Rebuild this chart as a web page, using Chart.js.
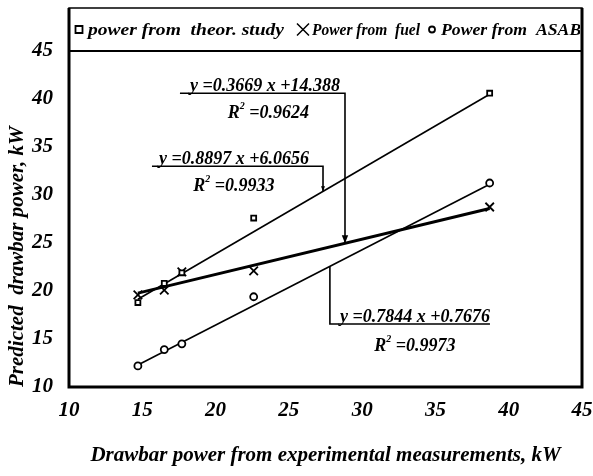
<!DOCTYPE html>
<html>
<head>
<meta charset="utf-8">
<title>Drawbar power</title>
<script src="https://cdn.jsdelivr.net/npm/chart.js@4.4.0/dist/chart.umd.min.js"></script>
<style>
  html, body { margin: 0; padding: 0; background: #fff; }
</style>
</head>
<body>
<canvas id="myChart" width="593" height="476"></canvas>
<script>
// measured drawbar power (x) and the three predictions (y), kW
var measured   = [14.7, 16.5, 17.7, 22.6, 38.7];
var theorPower = [18.8, 20.8, 21.9, 27.6, 40.6];
var fuelPower  = [19.6, 20.1, 22.0, 22.1, 28.75];
var asabePower = [12.2, 13.9, 14.5, 19.4, 31.25];
var seriesNames = ['power from  theor. study', 'Power from  fuel', 'Power from  ASABE'];

// linear fits as printed on the chart
var slopes     = [0.8897, 0.3669, 0.7844];
var intercepts = [6.0656, 14.388, 0.7676];
var rSquared   = [0.9933, 0.9624, 0.9973];

var xTicks = [10, 15, 20, 25, 30, 35, 40, 45];
var yTicks = [10, 15, 20, 25, 30, 35, 40, 45];

var serif = "'Liberation Serif', 'DejaVu Serif', serif";

function pts(ys) {
  return measured.map(function (x, i) { return {x: x, y: ys[i]}; });
}
function fitLine(i) {
  var lo = Math.min.apply(null, measured), hi = Math.max.apply(null, measured);
  return [{x: lo, y: slopes[i] * lo + intercepts[i]}, {x: hi, y: slopes[i] * hi + intercepts[i]}];
}

// where the equation boxes and their leader lines sit (data units)
var notes = [
  {fit: 1, from: 17.57, to: 28.83, lineY: 40.6, textX: 23.37, r2X: 23.6, r2Y: 38.0, arrow: 8},
  {fit: 0, from: 15.66, to: 27.33, lineY: 33.0, textX: 21.25, r2X: 21.25, r2Y: 30.4, arrow: 5},
  {fit: 2, from: 38.72, to: 27.8, lineY: 16.56, textX: 33.6, r2X: 33.6, r2Y: 13.75, arrow: 0}
];
// legend item marker x and text width (px)
var legendX = [79, 303, 432];
var legendW = [196, 108, 152];

function drawMarker(ctx, style, x, y) {
  ctx.save();
  ctx.strokeStyle = '#000';
  ctx.fillStyle = '#fff';
  ctx.lineWidth = 1.8;
  ctx.beginPath();
  if (style === 'rect') {
    ctx.rect(x - 3.5, y - 3.5, 7, 7);
    ctx.fill(); ctx.stroke();
  } else if (style === 'crossRot') {
    ctx.lineWidth = 1.5;
    ctx.moveTo(x - 6, y - 6); ctx.lineTo(x + 6, y + 6);
    ctx.moveTo(x + 6, y - 6); ctx.lineTo(x - 6, y + 6);
    ctx.stroke();
  } else {
    ctx.arc(x, y, 3, 0, Math.PI * 2);
    ctx.fill(); ctx.stroke();
  }
  ctx.restore();
}

var framePlugin = {
  id: 'frameAndNotes',
  afterDraw: function (chart) {
    var ctx = chart.ctx, a = chart.chartArea;
    var xs = chart.scales.x, ys = chart.scales.y;
    var frameTop = 8;
    ctx.save();
    ctx.strokeStyle = '#000';
    // outer frame (plot + legend band)
    ctx.lineWidth = 1.5;
    ctx.strokeRect(a.left, frameTop, a.right - a.left, a.bottom - frameTop);
    ctx.lineWidth = 3;
    ctx.beginPath();
    ctx.moveTo(a.left, frameTop); ctx.lineTo(a.left, a.bottom);
    ctx.lineTo(a.right, a.bottom); ctx.lineTo(a.right, frameTop);
    ctx.stroke();
    ctx.lineWidth = 2;
    ctx.beginPath();
    ctx.moveTo(a.left, a.top); ctx.lineTo(a.right, a.top);
    ctx.stroke();

    // legend band
    ctx.save();
    ctx.beginPath();
    ctx.rect(a.left, frameTop, a.right - a.left - 2, a.top - frameTop);
    ctx.clip();
    var ly = (frameTop + a.top) / 2;
    ctx.font = 'italic bold 17px ' + serif;
    ctx.fillStyle = '#000';
    ctx.textBaseline = 'middle';
    ctx.textAlign = 'left';
    for (var i = 0; i < 3; i++) {
      var ds = chart.data.datasets[i];
      drawMarker(ctx, ds.pointStyle, legendX[i], ly);
      var w = ctx.measureText(ds.label).width;
      ctx.save();
      ctx.translate(legendX[i] + 9, ly + 1);
      ctx.scale(legendW[i] / w, 1);
      ctx.fillText(ds.label, 0, 0);
      ctx.restore();
    }
    ctx.restore();

    // regression equations with leader lines
    ctx.fillStyle = '#000';
    ctx.lineWidth = 1.6;
    notes.forEach(function (n) {
      var k = n.fit;
      var hy = ys.getPixelForValue(n.lineY);
      var x0 = xs.getPixelForValue(n.from), x1 = xs.getPixelForValue(n.to);
      var fy = ys.getPixelForValue(slopes[k] * n.to + intercepts[k]);
      ctx.beginPath();
      ctx.moveTo(x0, hy); ctx.lineTo(x1, hy); ctx.lineTo(x1, fy);
      ctx.stroke();
      if (n.arrow) {
        var h = n.arrow;
        ctx.beginPath();
        ctx.moveTo(x1, fy);
        ctx.lineTo(x1 - h * 0.4, fy - h);
        ctx.lineTo(x1 + h * 0.4, fy - h);
        ctx.closePath();
        ctx.fill();
      }
      ctx.font = 'italic bold 18px ' + serif;
      ctx.textAlign = 'center';
      ctx.textBaseline = 'alphabetic';
      ctx.fillText('y =' + slopes[k] + ' x +' + intercepts[k], xs.getPixelForValue(n.textX), hy - 2);
      // R² line
      var rest = ' =' + rSquared[k];
      var wR = ctx.measureText('R').width;
      ctx.font = 'italic bold 10px ' + serif;
      var w2 = ctx.measureText('2').width;
      ctx.font = 'italic bold 18px ' + serif;
      var wRest = ctx.measureText(rest).width;
      var cx = xs.getPixelForValue(n.r2X), by = ys.getPixelForValue(n.r2Y);
      var sx = cx - (wR + w2 + wRest) / 2;
      ctx.textAlign = 'left';
      ctx.fillText('R', sx, by);
      ctx.font = 'italic bold 10px ' + serif;
      ctx.fillText('2', sx + wR, by - 9);
      ctx.font = 'italic bold 18px ' + serif;
      ctx.fillText(rest, sx + wR + w2, by);
    });
    ctx.restore();
  }
};

var tickFont = {family: serif, size: 21, style: 'italic', weight: 'bold'};
var titleFont = {family: serif, size: 21, style: 'italic', weight: 'bold'};

var chart = new Chart(document.getElementById('myChart').getContext('2d'), {
  type: 'scatter',
  data: {
    datasets: [
      {label: seriesNames[0], data: pts(theorPower), pointStyle: 'rect', pointRadius: 3.5,
       borderColor: '#000', backgroundColor: '#fff', borderWidth: 1.8, order: 0},
      {label: seriesNames[1], data: pts(fuelPower), pointStyle: 'crossRot', pointRadius: 6,
       borderColor: '#000', backgroundColor: '#fff', borderWidth: 1.8, order: 0},
      {label: seriesNames[2], data: pts(asabePower), pointStyle: 'circle', pointRadius: 3.5,
       borderColor: '#000', backgroundColor: '#fff', borderWidth: 1.8, order: 0},
      {label: 'fit theor', data: fitLine(0), showLine: true, pointRadius: 0,
       borderColor: '#000', borderWidth: 1.6, order: 1},
      {label: 'fit fuel', data: fitLine(1), showLine: true, pointRadius: 0,
       borderColor: '#000', borderWidth: 3, order: 1},
      {label: 'fit asabe', data: fitLine(2), showLine: true, pointRadius: 0,
       borderColor: '#000', borderWidth: 1.6, order: 1}
    ]
  },
  options: {
    responsive: false,
    animation: false,
    devicePixelRatio: 1,
    layout: {padding: {top: 51, right: 11, left: 0, bottom: 0}},
    plugins: {legend: {display: false}, tooltip: {enabled: false}},
    scales: {
      x: {
        type: 'linear', min: 10, max: 45,
        afterBuildTicks: function (s) { s.ticks = xTicks.map(function (v) { return {value: v}; }); },
        afterFit: function (s) { s.height = 89; s.paddingLeft = 0; s.paddingRight = 0; },
        grid: {display: false, drawTicks: false},
        border: {display: false},
        ticks: {font: tickFont, color: '#000', padding: 11, maxRotation: 0},
        title: {display: true, text: 'Drawbar power from experimental measurements, kW',
                font: titleFont, color: '#000', padding: {top: 0, bottom: 8}}
      },
      y: {
        type: 'linear', min: 10, max: 45,
        afterBuildTicks: function (s) { s.ticks = yTicks.map(function (v) { return {value: v}; }); },
        afterFit: function (s) { s.width = 69; s.paddingTop = 0; s.paddingBottom = 0; },
        grid: {display: false, drawTicks: false},
        border: {display: false},
        ticks: {font: tickFont, color: '#000', padding: 16},
        title: {display: true, text: 'Predicted  drawbar power, kW', align: 'start',
                font: titleFont, color: '#000', padding: {top: 5, bottom: 0}}
      }
    }
  },
  plugins: [framePlugin]
});
</script>
</body>
</html>
